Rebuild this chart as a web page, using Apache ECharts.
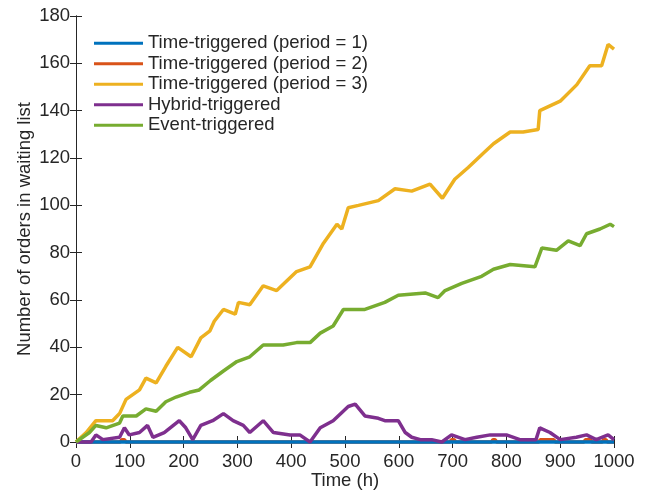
<!DOCTYPE html>
<html>
<head>
<meta charset="utf-8">
<script src="https://cdn.jsdelivr.net/npm/echarts@6.0.0/dist/echarts.min.js"></script>
<style>
html, body { margin: 0; padding: 0; background: #fff; }
#main { width: 648px; height: 492px; }
</style>
</head>
<body>
<div id="main"></div>
<script>
// series names
var names = ['Time-triggered (period = 1)', 'Time-triggered (period = 2)', 'Time-triggered (period = 3)', 'Hybrid-triggered', 'Event-triggered'];

// period = 1 : stays at zero
var p1Time = [0, 1000];
var p1Val = [0, 0];

// period = 2 : zero with a few short bumps
var p2Time = [0, 82, 85, 90, 93, 695, 698, 703, 706, 772, 775, 779, 782, 860, 863, 888, 891, 944, 947, 956, 959, 978, 981, 985, 988, 1000];
var p2Val = [0, 0, 1, 1, 0, 0, 1, 1, 0, 0, 1, 1, 0, 0, 1, 1, 0, 0, 1, 1, 0, 0, 1, 1, 0, 0];

// period = 3
var p3Time = [0, 19, 37, 68, 81, 93, 118, 130, 149, 167, 189, 214, 232, 249, 257, 274, 296, 302, 323, 348, 373, 410, 435, 460, 485, 494, 506, 525, 562, 593, 624, 658, 681, 704, 729, 757, 776, 807, 831, 859, 862, 900, 931, 955, 977, 989, 1000];
var p3Val = [0, 4, 9, 9, 12, 18, 22, 27, 25, 32, 40, 36, 44, 47, 51, 56, 54, 59, 58, 66, 64, 72, 74, 84, 92, 90, 99, 100, 102, 107, 106, 109, 103, 111, 116, 122, 126, 131, 131, 132, 140, 144, 151, 159, 159, 168, 166];

// hybrid
var hybTime = [0, 20, 28, 37, 50, 81, 90, 99, 118, 133, 143, 164, 192, 204, 217, 232, 254, 274, 292, 311, 323, 348, 367, 398, 416, 435, 454, 478, 506, 519, 537, 562, 574, 599, 612, 624, 640, 661, 680, 698, 723, 745, 770, 800, 825, 855, 862, 881, 900, 930, 949, 967, 989, 1000];
var hybVal = [0, 0, 0, 3, 1, 2, 6, 3, 4, 7, 2, 4, 9, 6, 1, 7, 9, 12, 9, 7, 4, 9, 4, 3, 3, 0, 6, 9, 15, 16, 11, 10, 9, 9, 4, 2, 1, 1, 0, 3, 1, 2, 3, 3, 1, 1, 6, 4, 1, 2, 3, 1, 3, 1];

// event
var evtTime = [0, 25, 37, 56, 81, 87, 112, 130, 149, 167, 186, 211, 229, 250, 274, 299, 323, 348, 385, 410, 435, 454, 478, 497, 537, 574, 599, 649, 673, 686, 717, 754, 776, 807, 853, 866, 893, 915, 937, 949, 974, 993, 1000];
var evtVal = [0, 4, 7, 6, 8, 11, 11, 14, 13, 17, 19, 21, 22, 26, 30, 34, 36, 41, 41, 42, 42, 46, 49, 56, 56, 59, 62, 63, 61, 64, 67, 70, 73, 75, 74, 82, 81, 85, 83, 88, 90, 92, 91];

var colors = ['#0072BD', '#D95319', '#EDB120', '#7E2F8E', '#77AC30'];
// drawing order: blue sits above orange, purple above both
var zOrder = [3, 2, 4, 5, 6];

function pairs(t, v) {
	var out = [];
	for (var i = 0; i < t.length; i++) out.push([t[i], v[i]]);
	return out;
}

var fontFamily = "'Liberation Sans', Arial, Helvetica, sans-serif";
var textColor = '#262626';
var fs = 18.5;

var chart = echarts.init(document.getElementById('main'));

var allData = [pairs(p1Time, p1Val), pairs(p2Time, p2Val), pairs(p3Time, p3Val), pairs(hybTime, hybVal), pairs(evtTime, evtVal)];
var series = [];
var legendData = [];
for (var k = 0; k < names.length; k++) {
	series.push({
		name: names[k],
		type: 'line',
		symbol: 'none',
		clip: false,
		z: zOrder[k],
		color: colors[k],
		lineStyle: { width: 3.5, color: colors[k] },
		data: allData[k]
	});
	legendData.push({ name: names[k], icon: 'rect', itemStyle: { color: colors[k] } });
}

var axisLine = { show: true, lineStyle: { color: textColor, width: 1 } };
var axisTick = { show: true, inside: true, length: 6, lineStyle: { color: textColor } };

var option = {
	animation: false,
	backgroundColor: '#fff',
	grid: { left: 76, right: 34, top: 16, bottom: 50, outerBoundsMode: 'none' },
	legend: {
		orient: 'vertical',
		left: 89,
		top: 28,
		itemWidth: 49,
		itemHeight: 3,
		itemGap: 0,
		textStyle: { fontSize: fs, fontFamily: fontFamily, color: textColor, lineHeight: 20.5 },
		data: legendData
	},
	xAxis: [
		{
			type: 'value', min: 0, max: 1000, interval: 100,
			name: 'Time (h)', nameLocation: 'middle', nameGap: 29, nameMoveOverlap: false,
			nameTextStyle: { fontSize: fs, fontFamily: fontFamily, color: textColor },
			axisLine: axisLine, axisTick: axisTick,
			axisLabel: { fontSize: fs, fontFamily: fontFamily, color: textColor, margin: 10, formatter: function (v) { return String(v); } },
			splitLine: { show: false }
		},
		{
			type: 'value', min: 0, max: 1000, interval: 100, position: 'top',
			axisLine: axisLine, axisTick: axisTick,
			axisLabel: { show: false }, splitLine: { show: false }
		}
	],
	yAxis: [
		{
			type: 'value', min: 0, max: 180, interval: 20,
			name: 'Number of orders in waiting list', nameLocation: 'middle', nameGap: 42, nameMoveOverlap: false,
			nameTextStyle: { fontSize: fs, fontFamily: fontFamily, color: textColor },
			axisLine: axisLine, axisTick: axisTick,
			axisLabel: { fontSize: fs, fontFamily: fontFamily, color: textColor, margin: 6 },
			splitLine: { show: false }
		},
		{
			type: 'value', min: 0, max: 180, interval: 20, position: 'right',
			axisLine: axisLine, axisTick: axisTick,
			axisLabel: { show: false }, splitLine: { show: false }
		}
	],
	series: series
};

chart.setOption(option);
</script>
</body>
</html>
